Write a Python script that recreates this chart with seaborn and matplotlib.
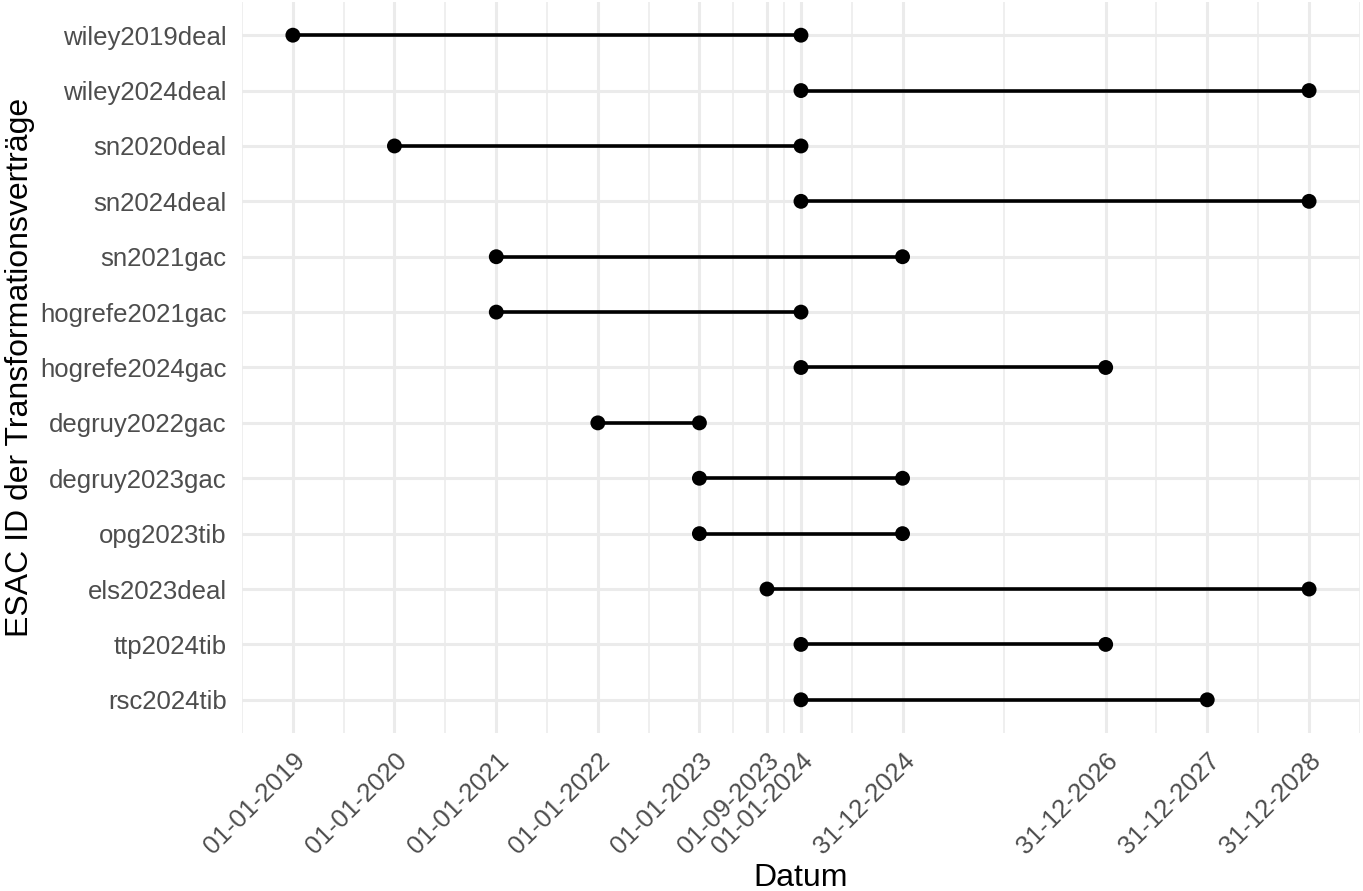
import pandas as pd
import numpy as np
import matplotlib
matplotlib.use("Agg")
import matplotlib.pyplot as plt
import matplotlib.dates as mdates
import seaborn as sns

# contract ids, top to bottom as in the chart
ids = ["wiley2019deal", "wiley2024deal", "sn2020deal", "sn2024deal", "sn2021gac",
       "hogrefe2021gac", "hogrefe2024gac", "degruy2022gac", "degruy2023gac",
       "opg2023tib", "els2023deal", "ttp2024tib", "rsc2024tib"]
start = ["2019-01-01", "2024-01-01", "2020-01-01", "2024-01-01", "2021-01-01",
         "2021-01-01", "2024-01-01", "2022-01-01", "2023-01-01",
         "2023-01-01", "2023-09-01", "2024-01-01", "2024-01-01"]
end = ["2024-01-01", "2028-12-31", "2024-01-01", "2028-12-31", "2024-12-31",
       "2024-01-01", "2026-12-31", "2023-01-01", "2024-12-31",
       "2024-12-31", "2028-12-31", "2026-12-31", "2027-12-31"]

df = pd.DataFrame({"id": ids, "start": pd.to_datetime(start), "end": pd.to_datetime(end)})
df["pos"] = len(df) - 1 - np.arange(len(df))
long = df.melt(id_vars=["id", "pos"], value_vars=["start", "end"], value_name="date")

sns.set_theme(style="white")
plt.rcParams["font.family"] = ["Liberation Sans", "DejaVu Sans"]

fig = plt.figure(figsize=(13.63, 8.91), dpi=100)
ax = fig.add_axes([0.1776, 0.1773, 0.8202, 0.8205])

ax.hlines(df["pos"], df["start"], df["end"], color="black", linewidth=2.6, zorder=3)
sns.scatterplot(data=long, x="date", y="pos", color="black", s=115, edgecolor="none",
                zorder=4, ax=ax, legend=False)

# axis breaks = all distinct dates
breaks = pd.to_datetime(sorted(set(start) | set(end)))
bnum = mdates.date2num(breaks)
ext = np.concatenate([[bnum[0] - (bnum[1] - bnum[0])], bnum, [bnum[-1] + (bnum[-1] - bnum[-2])]])
minor = (ext[:-1] + ext[1:]) / 2

rng = bnum[-1] - bnum[0]
ax.set_xlim(bnum[0] - 0.05 * rng, bnum[-1] + 0.05 * rng)
ax.set_ylim(-0.6, len(df) - 1 + 0.6)

ax.set_xticks(bnum)
ax.set_xticklabels([d.strftime("%d-%m-%Y") for d in breaks], rotation=45, ha="right",
                   rotation_mode="anchor", fontsize=18.5, color="#4D4D4D")
ax.set_xticks(minor, minor=True)
ax.set_yticks(df["pos"])
ax.set_yticklabels(df["id"], fontsize=18.5, color="#4D4D4D")

ax.grid(which="major", color="#EBEBEB", linewidth=2.2, zorder=0)
ax.grid(which="minor", axis="x", color="#EBEBEB", linewidth=1.1, zorder=0)
ax.set_axisbelow(True)
ax.tick_params(axis="both", which="both", length=0)
ax.tick_params(axis="x", pad=11)
ax.tick_params(axis="y", pad=11)
for s in ax.spines.values():
    s.set_visible(False)

ax.set_xlabel("Datum", fontsize=23, color="black", labelpad=3)
ax.set_ylabel("ESAC ID der Transformationsverträge", fontsize=23, color="black", labelpad=4)

fig.savefig("out.png", dpi=100)
